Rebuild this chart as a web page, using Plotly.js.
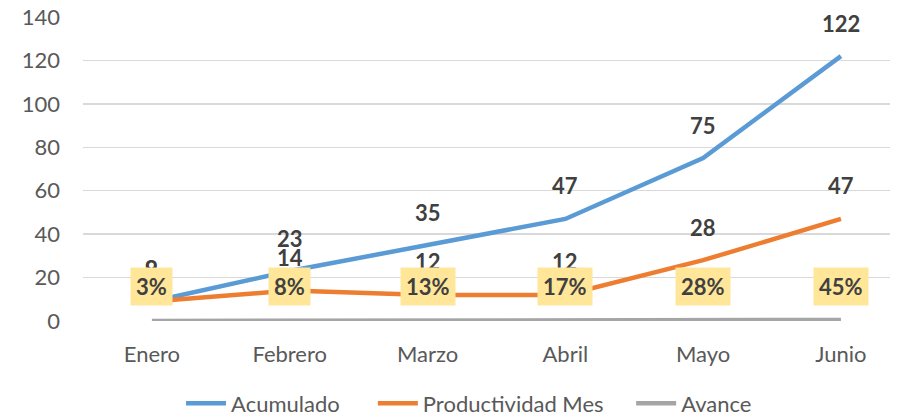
<!DOCTYPE html>
<html><head><meta charset="utf-8">
<script src="https://cdn.plot.ly/plotly-3.0.1.min.js"></script>
<style>html,body{margin:0;padding:0;background:#fff}</style>
</head><body><div id="chart" style="width:902px;height:416px"></div>
<script>
const months = ["Enero","Febrero","Marzo","Abril","Mayo","Junio"];
const acumulado = [9, 23, 35, 47, 75, 122];
const productividad = [9, 14, 12, 12, 28, 47];
const avance = [0.03, 0.08, 0.13, 0.17, 0.28, 0.45];
const avanceLabels = ["3%","8%","13%","17%","28%","45%"];
const seriesNames = ["Acumulado", "Productividad Mes", "Avance"];

const FONT = "Lato, 'Open Sans', sans-serif";
const lblFont = {family: FONT, size: 22, color: "#404040", weight: "bold"};
const pad = n => "\u00a0".repeat(n);

const traces = [
  {x: months, y: acumulado, name: seriesNames[0] + pad(5), type: "scatter", mode: "lines",
   line: {color: "#5B9BD5", width: 4.5}},
  {x: months, y: productividad, name: seriesNames[1] + pad(4), type: "scatter", mode: "lines",
   line: {color: "#ED7D31", width: 4.5}},
  {x: months, y: avance, name: seriesNames[2], type: "scatter", mode: "lines",
   line: {color: "#A5A5A5", width: 4.5}}
];

const annotations = [];
months.forEach((m, i) => {
  annotations.push({x: m, y: productividad[i], xref: "x", yref: "y", text: "<b>" + productividad[i] + "</b>",
    showarrow: false, yshift: 33, font: lblFont});
  annotations.push({x: m, y: acumulado[i], xref: "x", yref: "y", text: "<b>" + acumulado[i] + "</b>",
    showarrow: false, yshift: 33, font: lblFont});
});
months.forEach((m, i) => {
  annotations.push({x: m, y: avance[i], xref: "x", yref: "y", text: "<b>" + avanceLabels[i] + "</b>",
    showarrow: false, yshift: 34, font: lblFont, bgcolor: "#FFE699",
    borderpad: 5});
});

const layout = {
  width: 902, height: 416,
  margin: {l: 83, r: 12, t: 17, b: 95},
  paper_bgcolor: "#fff", plot_bgcolor: "#fff",
  font: {family: FONT, size: 22, color: "#595959"},
  showlegend: true,
  legend: {orientation: "h", x: 0.52, xanchor: "center", xref: "container",
    y: 0.03, yanchor: "middle", yref: "container",
    font: {family: FONT, size: 22, color: "#595959"}, itemwidth: 40, tracegroupgap: 0},
  xaxis: {type: "category", range: [-0.5, 5.356], showgrid: false, zeroline: false,
    showline: false, ticks: "", ticklabelstandoff: 18, automargin: false,
    tickfont: {family: FONT, size: 22, color: "#595959"}},
  yaxis: {range: [0, 140], dtick: 20, showgrid: true, gridcolor: "#D9D9D9", gridwidth: 1.5,
    zeroline: false, showline: false, ticks: "", ticklabelstandoff: 22, automargin: false,
    tickfont: {family: FONT, size: 22, color: "#595959"}},
  annotations: annotations
};

Plotly.newPlot("chart", traces, layout, {displayModeBar: false, staticPlot: true});
</script></body></html>
